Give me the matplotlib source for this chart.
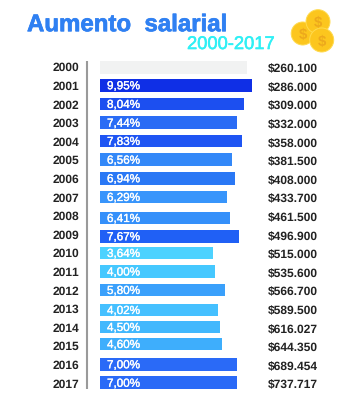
import matplotlib
matplotlib.use("Agg")
import matplotlib.pyplot as plt
import matplotlib.patheffects as pe
from matplotlib.patches import Circle

years = [2000,2001,2002,2003,2004,2005,2006,2007,2008,2009,2010,2011,2012,2013,2014,2015,2016,2017]
pct = ["", "9,95%","8,04%","7,44%","7,83%","6,56%","6,94%","6,29%","6,41%","7,67%","3,64%","4,00%","5,80%","4,02%","4,50%","4,60%","7,00%","7,00%"]
salary = ["$260.100","$286.000","$309.000","$332.000","$358.000","$381.500","$408.000","$433.700","$461.500","$496.900","$515.000","$535.600","$566.700","$589.500","$616.027","$644.350","$689.454","$737.717"]
bar_len = [146.7,151.7,144.3,137,141.7,132,134.7,127.3,129.7,139.3,112.7,115,125,117.7,120,122.3,137,137]
rows = [67.3,85.3,104,122.7,141,159.7,178.3,197,218,236.3,253,271.5,290,310,327,344,364.3,382.8]
colors = ["#f1f2f2","#0f2fe6","#1c4ff0","#2a6cf5","#1f55f3","#3388f8","#2a78f5","#3895fb","#3590fa","#2060f5",
          "#4dd2ff","#45c8ff","#3aa0fb","#45c0ff","#42b8fd","#3eaefc","#2a6af7","#2a6af7"]

plt.rcParams['font.family'] = ['Liberation Sans','DejaVu Sans']
plt.rcParams['text.hinting'] = 'no_hinting'
plt.rcParams['text.hinting_factor'] = 1
fig = plt.figure(figsize=(3.61,3.97), dpi=100)
ax = fig.add_axes([0,0,1,1])
ax.set_xlim(0,361); ax.set_ylim(397,0); ax.axis('off')

ax.barh(rows, bar_len, left=100, height=12.7, color=colors, linewidth=0)
ax.plot([87,87],[61,389],color="#9a9a9a",lw=1.5,solid_capstyle='butt')

for i,(y,yr,p,s) in enumerate(zip(rows,years,pct,salary)):
    ax.text(53,67+18.6*i,str(yr),ha='left',va='center_baseline',fontsize=8.7,fontweight='bold',color="#222222")
    ax.text(107,y-0.4,p,ha='left',va='center_baseline',fontsize=8.4,color="white",
            path_effects=[pe.withStroke(linewidth=0.25,foreground="white")])
    ax.text(268,68+18.6*i,s,ha='left',va='center_baseline',fontsize=8.7,fontweight='bold',color="#222222")

ax.text(27,22.5,"Aumento  salarial",ha='left',va='center_baseline',fontsize=17.3,fontweight='bold',color="#2f80f2",
        path_effects=[pe.withStroke(linewidth=0.5,foreground="#2f80f2")])
ax.text(187,42.5,"2000-2017",ha='left',va='center_baseline',fontsize=13.2,color="#2ff0f5",
        path_effects=[pe.withStroke(linewidth=0.4,foreground="#2ff0f5")])

for cx,cy,r in [(302.7,33.5,11.5),(318,21.7,12),(321.7,40,12)]:
    ax.add_patch(Circle((cx,cy),r,fc="#fcc61e",ec="#ffdb50",lw=0.7))
    ax.text(cx,cy,"$",ha='center',va='center_baseline',fontsize=10.5,fontweight='bold',color="#eda91c")

fig.savefig("out.png",dpi=100)
